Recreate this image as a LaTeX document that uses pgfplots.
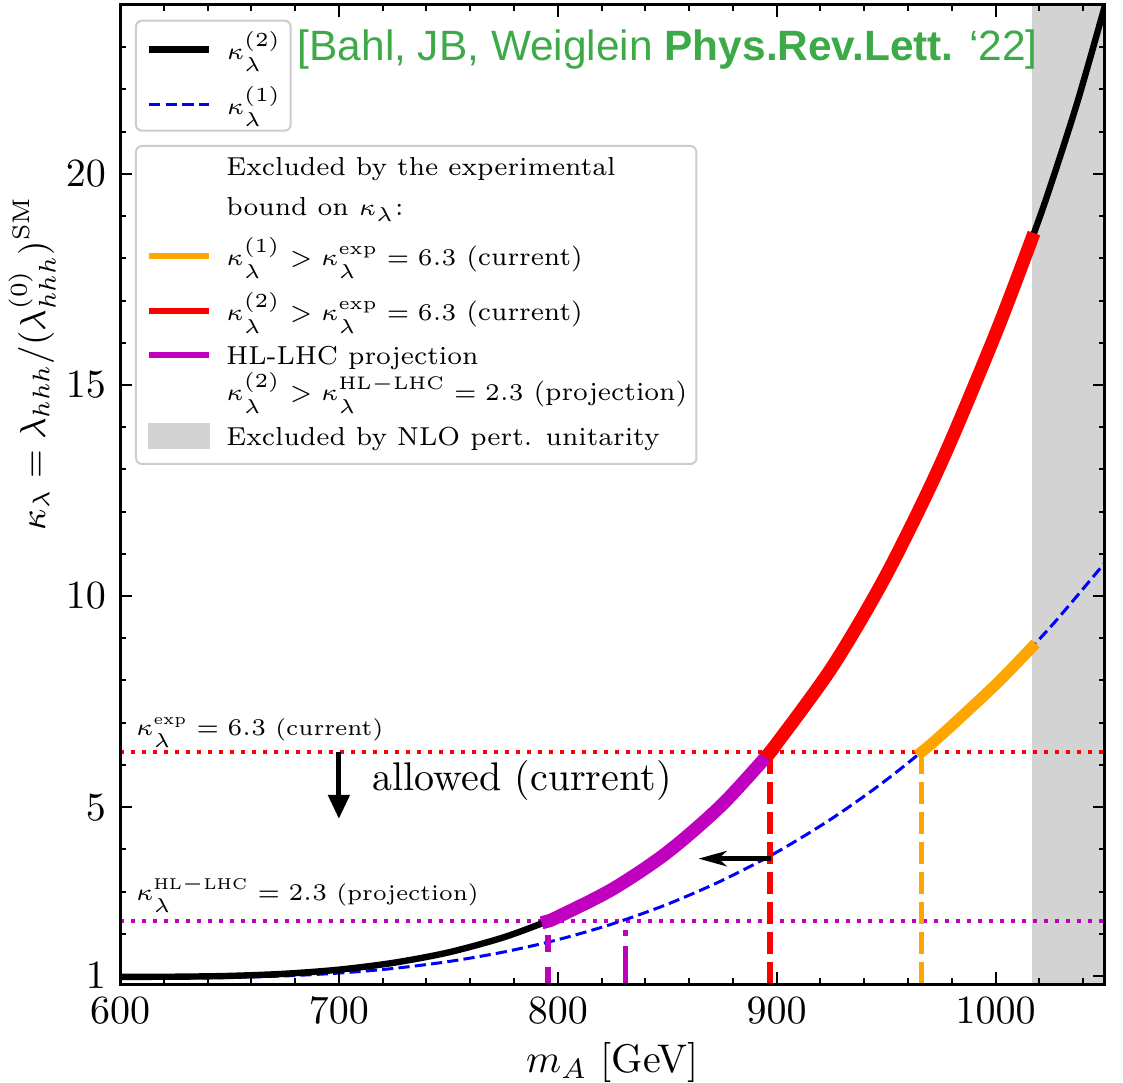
\documentclass[border=0pt]{standalone}
\usepackage{fontspec}
\newfontfamily\arialf{Liberation Sans}
\usepackage{pgfplots}
\pgfplotsset{compat=1.18}
\usetikzlibrary{arrows.meta}

\definecolor{hlmag}{rgb}{0.75,0,0.75}
\definecolor{exorange}{RGB}{255,165,0}
\definecolor{unitgray}{RGB}{211,211,211}
\definecolor{refgreen}{RGB}{60,170,70}
\definecolor{legframe}{RGB}{204,204,204}

\newcommand\legfont{\fontsize{6.5}{8}\selectfont}
\newcommand\annfont{\fontsize{5.6}{7}\selectfont}
% strut: height #1, depth #2, text smashed
\newcommand\rs[3]{\rule[-#2]{0pt}{\dimexpr#1+#2\relax}\smash{#3}}

\pgfplotsset{
  mylegend/.style={
    legend cell align=left,
    legend style={draw=legframe, line width=0.5pt, rounded corners=1.5pt,
      fill=white, font=\legfont, inner xsep=2.3pt, inner ysep=0pt,
      column sep=3.6pt, row sep=0pt,
      nodes={inner sep=0pt, text depth=}, anchor=north west},
    legend image code/.code={\draw[##1] (0pt,0pt) -- (15pt,0pt);},
  },
}

\begin{document}
\begin{tikzpicture}
\begin{axis}[
  at={(0,0)}, anchor=south west,
  scale only axis, width=246.25pt, height=244.75pt,
  xmin=600, xmax=1050, ymin=0.81, ymax=24,
  xtick={600,700,...,1000}, minor xtick={620,640,...,1040},
  ytick={1,5,10,15,20},
  minor ytick={2,3,4,6,7,8,9,11,12,13,14,16,17,18,19,21,22,23},
  /pgf/number format/1000 sep={},
  tick align=inside, tick pos=both,
  major tick length=3pt, minor tick length=1.6pt,
  every tick/.style={black, line width=0.5pt},
  axis line style={line width=0.75pt},
  axis on top,
  xlabel={$m_A$ [GeV]},
  ylabel={$\kappa_\lambda = \lambda_{hhh}/(\lambda^{(0)}_{hhh})^{\rm SM}$},
  xlabel style={at={(axis description cs:0.5,0)}, anchor=base, yshift=-22pt},
  ylabel style={at={(axis description cs:-0.0761,0.634)}, anchor=base, font=\fontsize{9}{11}\selectfont},
  mylegend,
  legend style={at={(0.0152,0.985)}},
]
% legend 1
\addlegendimage{black, line width=1.8pt}
\addlegendentry{\rs{9.75pt}{4.75pt}{$\kappa_\lambda^{(2)}$}}
\addlegendimage{blue, line width=0.8pt, dash pattern=on 2.9pt off 1.3pt}
\addlegendentry{\rs{9pt}{4pt}{$\kappa_\lambda^{(1)}$}}

% NLO perturbative unitarity
\addplot[forget plot, draw=none, fill=unitgray]
  coordinates {(1016.5,0.81) (1016.5,24) (1050,24) (1050,0.81)} -- cycle;

% experimental bounds
\addplot[forget plot, red, line width=1pt, dash pattern=on 1pt off 1.75pt]
  coordinates {(600,6.3) (1050,6.3)};
\addplot[forget plot, hlmag, line width=1pt, dash pattern=on 1pt off 1.75pt]
  coordinates {(600,2.3) (1050,2.3)};

% kappa^(1)
\addplot[forget plot, blue, line width=0.75pt, dash pattern=on 2.8pt off 1.3pt, smooth]
  coordinates {(600,0.950)(625,0.952)(650,0.965)(675,1.001)(700,1.069)(725,1.179)
  (750,1.341)(775,1.565)(800,1.859)(825,2.234)(850,2.698)(875,3.261)(900,3.932)
  (925,4.722)(950,5.640)(975,6.695)(1000,7.899)(1025,9.262)(1050,10.793)};

% kappa^(2)
\addplot[forget plot, black, line width=1.6pt, smooth]
  coordinates {(600,0.980)(625,0.983)(650,1.002)(675,1.052)(700,1.150)(725,1.313)
  (750,1.558)(775,1.911)(795.5,2.300)(800,2.399)(825,3.057)(850,3.926)(875,5.054)
  (897,6.300)(925,8.289)(950,10.494)(975,13.135)(1000,16.209)(1016.5,18.450)
  (1025,19.70)(1037.5,21.72)(1050,23.99)};

% vertical drop lines
\addplot[forget plot, hlmag, line width=1.3pt, dash pattern=on 4.2pt off 3.8pt]
  coordinates {(795.5,0.81) (795.5,2.3)};
\addplot[forget plot, hlmag, line width=1.3pt, dash pattern=on 9.6pt off 2.4pt on 1.5pt off 2.4pt]
  coordinates {(831,0.81) (831,2.3)};
\addplot[forget plot, red, line width=1.35pt, dash pattern=on 5.5pt off 2pt]
  coordinates {(897,0.81) (897,6.3)};
\addplot[forget plot, exorange, line width=1.35pt, dash pattern=on 5.5pt off 2pt]
  coordinates {(966.3,0.81) (966.3,6.3)};

% excluded segments
\addplot[forget plot, exorange, line width=2.8pt, line cap=rect, smooth]
  coordinates {(966.3,6.312)(975,6.695)(1000,7.899)(1016.5,8.780)};
\addplot[forget plot, hlmag, line width=3.3pt, line cap=rect, smooth]
  coordinates {(795.5,2.300)(800,2.399)(825,3.057)(850,3.926)(875,5.054)(897,6.300)};
\addplot[forget plot, red, line width=3.3pt, line cap=rect, smooth]
  coordinates {(897,6.300)(925,8.289)(950,10.494)(975,13.135)(1000,16.209)(1016.5,18.450)};

% arrows
\addplot[forget plot, black, line width=1.3pt, -{Triangle[length=6pt,width=5.2pt]}]
  coordinates {(700,6.3) (700,4.72)};
\addplot[forget plot, black, line width=1.2pt, -{Stealth[length=7pt,width=3.8pt,inset=2pt]}]
  coordinates {(897.5,3.78) (864.3,3.78)};

% annotations
\node[anchor=base west, inner sep=0pt, font=\annfont] at (axis cs:607,6.70)
  {$\kappa_\lambda^{\rm exp} = 6.3$ (current)};
\node[anchor=base west, inner sep=0pt, font=\annfont] at (axis cs:607,2.78)
  {$\kappa_\lambda^{\rm HL-LHC} = 2.3$ (projection)};
\node[anchor=base west, inner sep=0pt, font=\fontsize{10}{12}\selectfont] at (axis cs:715,5.39)
  {allowed (current)};
\node[anchor=base west, inner sep=0pt, text=refgreen, font=\fontsize{10.6}{12}\selectfont\arialf]
  at (rel axis cs:0.1797,0.9438) {[Bahl, JB, Weiglein \textbf{Phys.Rev.Lett.} ‘22]};
\end{axis}

% second legend
\begin{axis}[
  at={(0,0)}, anchor=south west,
  scale only axis, width=246.25pt, height=244.75pt,
  hide axis, xmin=0, xmax=1, ymin=0, ymax=1,
  mylegend,
  legend style={at={(0.0152,0.857)}},
]
\addlegendimage{legend image code/.code={}}
\addlegendentry{\rs{7.5pt}{2.5pt}{Excluded by the experimental}}
\addlegendimage{legend image code/.code={}}
\addlegendentry{\rs{7.5pt}{2.5pt}{bound on $\kappa_\lambda$:}}
\addlegendimage{exorange, line width=1.6pt}
\addlegendentry{\rs{10pt}{5pt}{$\kappa_\lambda^{(1)} > \kappa_\lambda^{\rm exp} = 6.3$ (current)}}
\addlegendimage{red, line width=1.7pt}
\addlegendentry{\rs{8.75pt}{3.75pt}{$\kappa_\lambda^{(2)} > \kappa_\lambda^{\rm exp} = 6.3$ (current)}}
\addlegendimage{hlmag, line width=1.7pt}
\addlegendentry{\rs{7.25pt}{2.25pt}{HL-LHC projection}}
\addlegendimage{legend image code/.code={}}
\addlegendentry{\rs{6.75pt}{1.75pt}{$\kappa_\lambda^{(2)} > \kappa_\lambda^{\rm HL-LHC} = 2.3$ (projection)}}
\addlegendimage{legend image code/.code={\fill[unitgray, sharp corners] (0pt,-2.9pt) rectangle (15pt,2.9pt);}}
\addlegendentry{\rs{9.5pt}{4.5pt}{Excluded by NLO pert. unitarity}}
\end{axis}
\pgfresetboundingbox
\path[use as bounding box] (-30pt,-24.5pt) rectangle (250.75pt,246pt);
\end{tikzpicture}
\end{document}
